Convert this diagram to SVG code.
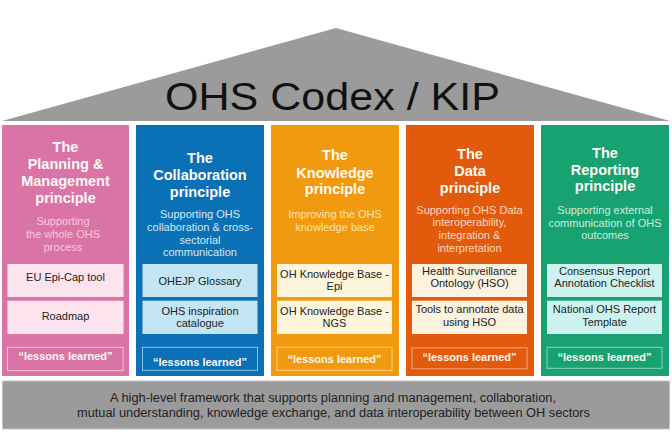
<svg xmlns="http://www.w3.org/2000/svg" width="672" height="440" viewBox="0 0 672 440">
<style>
text{font-family:"Liberation Sans",Arial,sans-serif;text-anchor:middle}
.ttl{font-size:14.5px;font-weight:bold;fill:#fffaf5}
.sub{font-size:11px}
.itm{font-size:11px;fill:#222}
.les{font-size:11px;font-weight:bold;fill:#fff8f4}
.lbox{fill:none;stroke-width:1}
.ib{stroke:none}
</style>
<rect width="672" height="440" fill="#ffffff"/>
<g id="roof">
<polygon points="2,121 336,28 670,121" fill="#9b9b9b"/>
<text x="332.5" y="109.5" font-size="39" fill="#111" textLength="335" lengthAdjust="spacingAndGlyphs">OHS Codex / KIP</text>
</g>
<g id="col-planning">
<rect x="2" y="125" width="127" height="251" fill="#da74a6"/>
<text class="ttl" x="65.5" y="152">The</text>
<text class="ttl" x="65.5" y="168.5">Planning &amp;</text>
<text class="ttl" x="65.5" y="186">Management</text>
<text class="ttl" x="65.5" y="202.5">principle</text>
<text class="sub" fill="#f7c9de" x="63" y="224.7">Supporting</text>
<text class="sub" fill="#f7c9de" x="63" y="238">the whole OHS</text>
<text class="sub" fill="#f7c9de" x="63" y="250.7">process</text>
<rect class="ib" x="7.5" y="264" width="116" height="33" fill="#fde3ee"/>
<text class="itm" x="65.5" y="281.3">EU Epi-Cap tool</text>
<rect class="ib" x="7.5" y="300.7" width="116" height="33.3" fill="#fde3ee"/>
<text class="itm" x="65.5" y="319.7">Roadmap</text>
<rect class="lbox" stroke="#f3c4da" x="7.5" y="347.3" width="115.5" height="23.3"/>
<text class="les" x="65.5" y="359.7">“lessons learned”</text>
</g>
<g id="col-collaboration">
<rect x="136" y="125" width="128" height="251" fill="#0b71b7"/>
<text class="ttl" x="200" y="163">The</text>
<text class="ttl" x="200" y="179.5">Collaboration</text>
<text class="ttl" x="200" y="197">principle</text>
<text class="sub" fill="#d6e8f6" x="200" y="218">Supporting OHS</text>
<text class="sub" fill="#d6e8f6" x="200" y="231">collaboration &amp; cross-</text>
<text class="sub" fill="#d6e8f6" x="200" y="244">sectorial</text>
<text class="sub" fill="#d6e8f6" x="200" y="256">communication</text>
<rect class="ib" x="142.5" y="264" width="115" height="33" fill="#c3e5f4"/>
<text class="itm" x="200" y="285.3">OHEJP Glossary</text>
<rect class="ib" x="142.5" y="300.7" width="115" height="33.3" fill="#c3e5f4"/>
<text class="itm" x="200" y="314.7">OHS inspiration</text>
<text class="itm" x="200" y="327.3">catalogue</text>
<rect class="lbox" stroke="#8fc2e6" x="142.5" y="347.3" width="115" height="23"/>
<text class="les" x="200" y="366">“lessons learned”</text>
</g>
<g id="col-knowledge">
<rect x="271" y="125" width="128" height="251" fill="#f29a0f"/>
<text class="ttl" x="335" y="160.2">The</text>
<text class="ttl" x="335" y="177.5">Knowledge</text>
<text class="ttl" x="335" y="194.2">principle</text>
<text class="sub" fill="#fde3b0" x="335" y="218">Improving the OHS</text>
<text class="sub" fill="#fde3b0" x="335" y="230.7">knowledge base</text>
<rect class="ib" x="277" y="264" width="115" height="33" fill="#fdf6dc"/>
<text class="itm" x="334.5" y="277.7">OH Knowledge Base -</text>
<text class="itm" x="334.5" y="289.7">Epi</text>
<rect class="ib" x="277" y="300.7" width="115" height="33.3" fill="#fdf6dc"/>
<text class="itm" x="334.5" y="314.7">OH Knowledge Base -</text>
<text class="itm" x="334.5" y="326.7">NGS</text>
<rect class="lbox" stroke="#f9cd86" x="277" y="347.3" width="115" height="23"/>
<text class="les" x="334.5" y="363">“lessons learned”</text>
</g>
<g id="col-data">
<rect x="406" y="125" width="128" height="251" fill="#e25a0b"/>
<text class="ttl" x="470" y="159.2">The</text>
<text class="ttl" x="470" y="176">Data</text>
<text class="ttl" x="470" y="192.5">principle</text>
<text class="sub" fill="#fcd8c2" x="469.5" y="214">Supporting OHS Data</text>
<text class="sub" fill="#fcd8c2" x="469.5" y="226.3">interoperability,</text>
<text class="sub" fill="#fcd8c2" x="469.5" y="239">integration &amp;</text>
<text class="sub" fill="#fcd8c2" x="469.5" y="251.7">interpretation</text>
<rect class="ib" x="412" y="264" width="115" height="33" fill="#fdf2df"/>
<text class="itm" x="469.5" y="274.7">Health Surveillance</text>
<text class="itm" x="469.5" y="287.3">Ontology (HSO)</text>
<rect class="ib" x="412" y="300.7" width="115" height="33.3" fill="#fdf2df"/>
<text class="itm" x="469.5" y="313.3">Tools to annotate data</text>
<text class="itm" x="469.5" y="325.7">using HSO</text>
<rect class="lbox" stroke="#f4a77c" x="412" y="347.8" width="115" height="21"/>
<text class="les" x="469.5" y="361.3">“lessons learned”</text>
</g>
<g id="col-reporting">
<rect x="541" y="125" width="128" height="251" fill="#18a271"/>
<text class="ttl" x="605" y="158">The</text>
<text class="ttl" x="605" y="174.5">Reporting</text>
<text class="ttl" x="605" y="191.2">principle</text>
<text class="sub" fill="#caeedf" x="605" y="214">Supporting external</text>
<text class="sub" fill="#caeedf" x="605" y="226.7">communication of OHS</text>
<text class="sub" fill="#caeedf" x="605" y="239.3">outcomes</text>
<rect class="ib" x="547" y="264" width="115" height="33" fill="#cdf2ef"/>
<text class="itm" x="604.5" y="274.7">Consensus Report</text>
<text class="itm" x="604.5" y="287.3">Annotation Checklist</text>
<rect class="ib" x="547" y="300.7" width="115" height="33.3" fill="#cdf2ef"/>
<text class="itm" x="604.5" y="313.3">National OHS Report</text>
<text class="itm" x="604.5" y="325.7">Template</text>
<rect class="lbox" stroke="#8ad6b6" x="547" y="347.3" width="115" height="21"/>
<text class="les" x="604.5" y="360.7">“lessons learned”</text>
</g>
<g id="foundation">
<rect x="2.5" y="381" width="667" height="48" fill="#9b9b9b" stroke="#c4c4c4" stroke-width="1"/>
<text x="333" y="401.5" font-size="12.5" fill="#222" textLength="446" lengthAdjust="spacingAndGlyphs">A high-level framework that supports planning and management, collaboration,</text>
<text x="333.5" y="416.5" font-size="12.5" fill="#222" textLength="513" lengthAdjust="spacingAndGlyphs">mutual understanding, knowledge exchange, and data interoperability between OH sectors</text>
</g>
<g id="connectors"></g>
</svg>
